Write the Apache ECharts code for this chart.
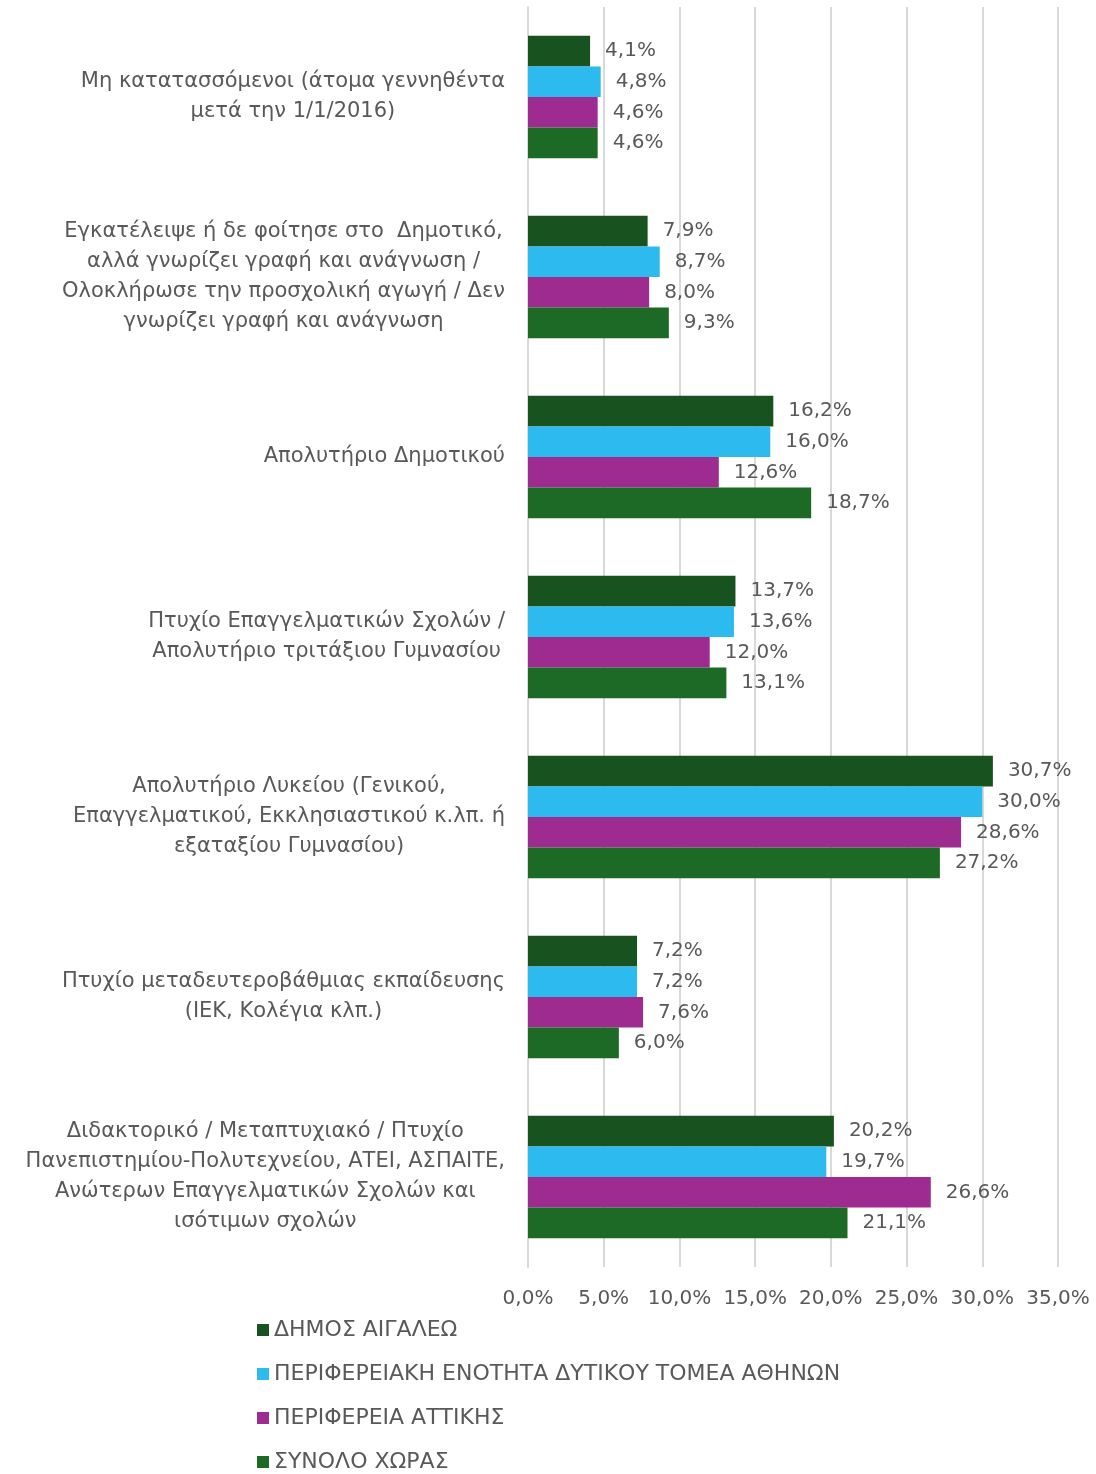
<!DOCTYPE html>
<html lang="el">
<head>
    <meta charset="UTF-8">
    <title>Εκπαίδευση</title>
    <style>
        html, body { margin: 0; padding: 0; background: #ffffff; }
        div#main { width: 1096px; height: 1474px; }
    </style>
</head>
<body>
    <div id="main"></div>
    <script src="https://cdn.jsdelivr.net/npm/echarts@6/dist/echarts.min.js"></script>
    <script>
        const categories = [
            "Μη κατατασσόμενοι (άτομα γεννηθέντα\nμετά την 1/1/2016)",
            "Εγκατέλειψε ή δε φοίτησε στο  Δημοτικό,\nαλλά γνωρίζει γραφή και ανάγνωση /\nΟλοκλήρωσε την προσχολική αγωγή / Δεν\nγνωρίζει γραφή και ανάγνωση",
            "Απολυτήριο Δημοτικού",
            "Πτυχίο Επαγγελματικών Σχολών /\nΑπολυτήριο τριτάξιου Γυμνασίου",
            "Απολυτήριο Λυκείου (Γενικού,\nΕπαγγελματικού, Εκκλησιαστικού κ.λπ. ή\nεξαταξίου Γυμνασίου)",
            "Πτυχίο μεταδευτεροβάθμιας εκπαίδευσης\n(ΙΕΚ, Κολέγια κλπ.)",
            "Διδακτορικό / Μεταπτυχιακό / Πτυχίο\nΠανεπιστημίου-Πολυτεχνείου, ΑΤΕΙ, ΑΣΠΑΙΤΕ,\nΑνώτερων Επαγγελματικών Σχολών και\nισότιμων σχολών"
        ];

        const seriesNames = [
            "ΔΗΜΟΣ ΑΙΓΑΛΕΩ",
            "ΠΕΡΙΦΕΡΕΙΑΚΗ ΕΝΟΤΗΤΑ ΔΥΤΙΚΟΥ ΤΟΜΕΑ ΑΘΗΝΩΝ",
            "ΠΕΡΙΦΕΡΕΙΑ ΑΤΤΙΚΗΣ",
            "ΣΥΝΟΛΟ ΧΩΡΑΣ"
        ];

        const aigaleo = [4.1, 7.9, 16.2, 13.7, 30.7, 7.2, 20.2];
        const dytikosTomeas = [4.8, 8.7, 16.0, 13.6, 30.0, 7.2, 19.7];
        const attiki = [4.6, 8.0, 12.6, 12.0, 28.6, 7.6, 26.6];
        const synoloXoras = [4.6, 9.3, 18.7, 13.1, 27.2, 6.0, 21.1];

        const colors = ["#17521f", "#2dbaee", "#9e2b8f", "#1c6a26"];
        const fontFamily = "'DejaVu Sans', sans-serif";
        const textColor = "#595959";

        const pct = v => v.toFixed(1).replace(".", ",") + "%";

        const myChart = echarts.init(document.getElementById("main"));

        const makeSeries = (name, data, i) => ({
            name: name,
            type: "bar",
            data: data,
            barGap: "0%",
            barCategoryGap: "32%",
            itemStyle: { color: colors[i] },
            label: {
                show: true,
                position: "right",
                distance: 15,
                formatter: p => pct(p.value),
                color: textColor,
                fontFamily: fontFamily,
                fontSize: 20
            }
        });

        const option = {
            animation: false,
            backgroundColor: "#ffffff",
            grid: { left: 528, right: 38, top: 7, height: 1260 },
            legend: {
                orient: "vertical",
                left: 257,
                top: 1319,
                padding: 0,
                itemGap: 22,
                itemWidth: 12,
                itemHeight: 12,
                icon: "rect",
                textStyle: { color: textColor, fontFamily: fontFamily, fontSize: 22 },
                data: seriesNames
            },
            xAxis: {
                type: "value",
                min: 0,
                max: 35,
                interval: 5,
                axisLine: { show: false },
                axisTick: { show: false },
                splitLine: { lineStyle: { color: "#d9d9d9", width: 2 } },
                axisLabel: {
                    margin: 22,
                    color: textColor,
                    fontFamily: fontFamily,
                    fontSize: 20,
                    formatter: v => pct(v)
                }
            },
            yAxis: {
                type: "category",
                inverse: true,
                data: categories,
                axisLine: { show: true, lineStyle: { color: "#d9d9d9", width: 2 } },
                axisTick: { show: false },
                axisLabel: {
                    margin: 23,
                    color: textColor,
                    fontFamily: fontFamily,
                    fontSize: 21,
                    lineHeight: 30,
                    formatter: v => v.split("\n").map(l => "{c|" + l + "}").join("\n"),
                    rich: {
                        c: { align: "center", color: textColor, fontFamily: fontFamily, fontSize: 21, lineHeight: 30 }
                    }
                }
            },
            series: [
                makeSeries(seriesNames[0], aigaleo, 0),
                makeSeries(seriesNames[1], dytikosTomeas, 1),
                makeSeries(seriesNames[2], attiki, 2),
                makeSeries(seriesNames[3], synoloXoras, 3)
            ]
        };

        myChart.setOption(option);
    </script>
</body>
</html>
